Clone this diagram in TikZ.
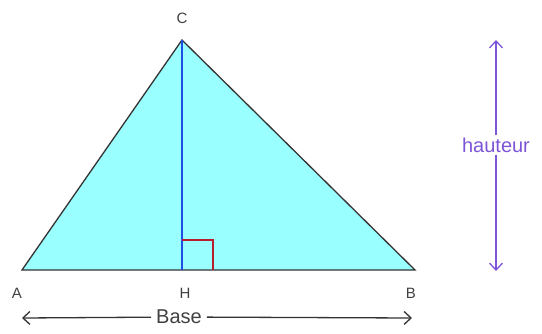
\documentclass[tikz,border=0pt]{standalone}
\usepackage{fontspec}
\setmainfont{Liberation Sans}
\usetikzlibrary{arrows.meta}
\definecolor{fondtri}{RGB}{153,255,255}
\definecolor{hautcol}{RGB}{125,85,215}
\definecolor{rouge}{RGB}{185,30,45}
\definecolor{bleu}{RGB}{30,80,230}

\begin{document}
\begin{tikzpicture}[x=1pt,y=-1pt,
    lettre/.style={font=\fontsize{15}{15}\selectfont, text=black!75, inner sep=0pt},
    mesure/.style={font=\fontsize{20}{20}\selectfont, inner xsep=5pt, inner ysep=2pt},
    fleche/.style={-{Straight Barb[length=7pt,width=13pt]}, line width=1.3pt}]
\useasboundingbox (0,0) rectangle (542,333);

% ===== Sommets =====
\coordinate (A) at (22,270);
\coordinate (B) at (415,270);
\coordinate (C) at (182,40);
\coordinate (H) at (182,270);

% ===== Triangle =====
\fill[fondtri] (A) -- (B) -- (C) -- cycle;
\draw[black!80, line width=1.3pt] (A) -- (B) -- (C) -- cycle;
\draw[bleu, line width=1.3pt] (C) -- (H);
\draw[rouge, line width=1.3pt] (H) ++(0,-30) -- ++(31,0) -- ++(0,30);

% ===== Lettres =====
\node[lettre] (labC) at (182,18) {C};
\node[lettre] (labA) at (17,293) {A};
\node[lettre] (labH) at (185,293) {H};
\node[lettre] (labB) at (411,293) {B};

% ===== Base =====
\node[mesure, text=black!75] (base) at (179,317) {Base};
\coordinate (b1) at (22,318);
\coordinate (b2) at (412,318);
\draw[fleche, black!80] (base) -- (b1);
\draw[fleche, black!80] (base) -- (b2);

% ===== Hauteur =====
\node[mesure, text=hautcol] (haut) at (496,145) {hauteur};
\coordinate (h1) at (496,40);
\coordinate (h2) at (496,271);
\draw[fleche, hautcol] (haut) -- (h1);
\draw[fleche, hautcol] (haut) -- (h2);

\end{tikzpicture}
\end{document}
